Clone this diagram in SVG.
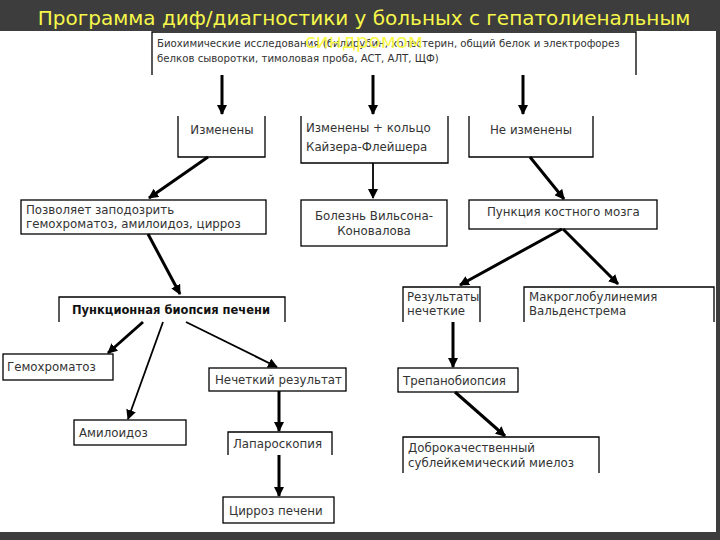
<svg xmlns="http://www.w3.org/2000/svg" width="720" height="540" viewBox="0 0 720 540">
<defs>
<marker id="ah" viewBox="0 0 10 10" refX="9" refY="5" markerWidth="10" markerHeight="10" markerUnits="userSpaceOnUse" orient="auto">
<path d="M0,0 L10,5 L0,10 z" fill="#000"/>
</marker>
<style>
.bx{fill:#fff;stroke:#000;stroke-width:1.3}
.op{fill:none;stroke:#000;stroke-width:1.3}
.t{font-family:"DejaVu Sans",sans-serif;font-size:11.8px;fill:#333}
.s{font-size:10.2px}
.b{font-weight:bold;fill:#111;font-size:11.5px}
.c{stroke:#000;stroke-width:3;fill:none}
.n{stroke:#000;stroke-width:1.8;fill:none}
.title{font-family:"DejaVu Sans",sans-serif;font-size:20px;fill:#f7f74a}
</style>
</defs>
<rect x="0" y="0" width="720" height="540" fill="#3d3d3d"/>
<rect x="0" y="31" width="716" height="501" fill="#fff"/>

<g id="n-top">
<path class="op" d="M152,75 V32 H636 V75"/>
<text class="t s" x="157" y="47">Биохимические исследования (билирубин, холестерин, общий белок и электрофорез</text>
<text class="t s" x="157" y="62">белков сыворотки, тимоловая проба, АСТ, АЛТ, ЩФ)</text>
</g>
<g id="n-izm">
<path class="op" d="M178,116 V157 H265 V116"/>
<text class="t" x="222" y="134" text-anchor="middle">Изменены</text>
</g>
<g id="n-izm-k">
<path class="op" d="M301,116 V163 H448 V116"/>
<text class="t" x="306" y="132">Изменены + кольцо</text>
<text class="t" x="306" y="151">Кайзера-Флейшера</text>
</g>
<g id="n-neizm">
<path class="op" d="M469,116 V157 H593 V116"/>
<text class="t" x="531" y="134" text-anchor="middle">Не изменены</text>
</g>
<g id="n-pozv">
<rect class="bx" x="21" y="200" width="245" height="34"/>
<text class="t" x="26" y="214">Позволяет заподозрить</text>
<text class="t" x="26" y="228">гемохроматоз, амилоидоз, цирроз</text>
</g>
<g id="n-wilson">
<rect class="bx" x="301" y="200" width="146" height="46"/>
<text class="t" x="374" y="220" text-anchor="middle">Болезнь Вильсона-</text>
<text class="t" x="374" y="235" text-anchor="middle">Коновалова</text>
</g>
<g id="n-punk">
<rect class="bx" x="469" y="200" width="188" height="29"/>
<text class="t" x="487" y="216">Пункция костного мозга</text>
</g>
<g id="n-biop">
<path class="op" d="M59,322 V297 H285 V322"/>
<text class="t b" x="72" y="314">Пункционная биопсия печени</text>
</g>
<g id="n-res">
<path class="op" d="M403,322 V287 H480 V322"/>
<text class="t" x="407" y="301">Результаты</text>
<text class="t" x="407" y="315">нечеткие</text>
</g>
<g id="n-makro">
<path class="op" d="M524,322 V287 H714 V322"/>
<text class="t" x="529" y="301">Макроглобулинемия</text>
<text class="t" x="529" y="315">Вальденстрема</text>
</g>
<g id="n-gemo">
<rect class="bx" x="3" y="354" width="110" height="26"/>
<text class="t" x="7" y="371">Гемохроматоз</text>
</g>
<g id="n-nech">
<rect class="bx" x="209" y="368" width="137" height="23"/>
<text class="t" x="215" y="384">Нечеткий результат</text>
</g>
<g id="n-trep">
<rect class="bx" x="398" y="368" width="120" height="24"/>
<text class="t" x="403" y="385">Трепанобиопсия</text>
</g>
<g id="n-amil">
<rect class="bx" x="74" y="420" width="112" height="25"/>
<text class="t" x="79" y="437">Амилоидоз</text>
</g>
<g id="n-lap">
<path class="op" d="M228,455 V432 H332 V455"/>
<text class="t" x="233" y="448">Лапароскопия</text>
</g>
<g id="n-dobro">
<path class="op" d="M403,473 V437 H599 V473"/>
<text class="t" x="408" y="452">Доброкачественный</text>
<text class="t" x="408" y="467">сублейкемический миелоз</text>
</g>
<g id="n-cirr">
<rect class="bx" x="223" y="497" width="111" height="26"/>
<text class="t" x="229" y="515">Цирроз печени</text>
</g>

<g id="connectors">
<line class="c" x1="222" y1="75" x2="222" y2="114" marker-end="url(#ah)"/>
<line class="c" x1="373" y1="75" x2="373" y2="114" marker-end="url(#ah)"/>
<line class="c" x1="523" y1="75" x2="523" y2="114" marker-end="url(#ah)"/>
<line class="c" x1="208" y1="157" x2="149" y2="198" marker-end="url(#ah)"/>
<line class="n" x1="373" y1="163" x2="373" y2="198" marker-end="url(#ah)"/>
<line class="c" x1="530" y1="157" x2="564" y2="199" marker-end="url(#ah)"/>
<line class="c" x1="148" y1="234" x2="180" y2="294" marker-end="url(#ah)"/>
<line class="c" x1="562" y1="229" x2="460" y2="285" marker-end="url(#ah)"/>
<line class="c" x1="563" y1="229" x2="618" y2="284" marker-end="url(#ah)"/>
<line class="c" x1="143" y1="322" x2="108" y2="353" marker-end="url(#ah)"/>
<line class="n" x1="163" y1="322" x2="128" y2="419" marker-end="url(#ah)"/>
<line class="n" x1="186" y1="322" x2="277" y2="367" marker-end="url(#ah)"/>
<line class="c" x1="453" y1="322" x2="453" y2="367" marker-end="url(#ah)"/>
<line class="c" x1="455" y1="392" x2="505" y2="436" marker-end="url(#ah)"/>
<line class="c" x1="279" y1="391" x2="279" y2="431" marker-end="url(#ah)"/>
<line class="c" x1="279" y1="455" x2="279" y2="496" marker-end="url(#ah)"/>
</g>

<text class="title" x="364" y="25" text-anchor="middle">Программа диф/диагностики у больных с гепатолиенальным</text>
<text class="title" x="364" y="48" text-anchor="middle">синдромом</text>
</svg>
